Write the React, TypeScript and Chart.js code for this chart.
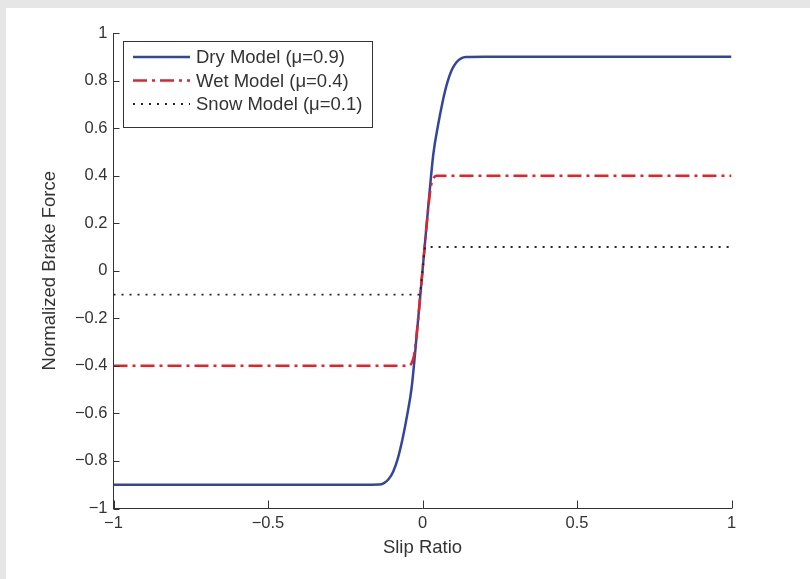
import React, { useEffect, useRef } from "react";
import { Chart, registerables } from "chart.js";

Chart.register(...registerables);

// ---- data ----
const dryX = [-1, -0.2, -0.14, -0.125, -0.11, -0.095, -0.08, -0.065, -0.05, -0.035, -0.018, 0, 0.018, 0.035, 0.05, 0.065, 0.08, 0.095, 0.11, 0.125, 0.14, 0.2, 1];
const dryY = [-0.9, -0.9, -0.899, -0.893, -0.877, -0.845, -0.79, -0.71, -0.61, -0.49, -0.26, 0, 0.26, 0.49, 0.61, 0.71, 0.79, 0.845, 0.877, 0.893, 0.899, 0.9, 0.9];
const wetX = [-1, -0.045, -0.036, -0.028, -0.02, 0, 0.02, 0.028, 0.036, 0.045, 1];
const wetY = [-0.4, -0.4, -0.39, -0.36, -0.28, 0, 0.28, 0.36, 0.39, 0.4, 0.4];
const snowX = [-1, -0.008, 0.008, 1];
const snowY = [-0.1, -0.1, 0.1, 0.1];

const seriesNames = ["Dry Model (\u03bc=0.9)", "Wet Model (\u03bc=0.4)", "Snow Model (\u03bc=0.1)"];

const xTicks = [-1, -0.5, 0, 0.5, 1];
const xTickLabels = ["\u22121", "\u22120.5", "0", "0.5", "1"];
const yTicks = [-1, -0.8, -0.6, -0.4, -0.2, 0, 0.2, 0.4, 0.6, 0.8, 1];
const yTickLabels = ["\u22121", "\u22120.8", "\u22120.6", "\u22120.4", "\u22120.2", "0", "0.2", "0.4", "0.6", "0.8", "1"];

const xTitle = "Slip Ratio";
const yTitle = "Normalized Brake Force";

const toPts = (xs: number[], ys: number[]) => xs.map((x, i) => ({ x, y: ys[i] }));

const FONT = "'Liberation Sans', Arial, Helvetica, sans-serif";
const TEXT = "#333333";

const decorPlugin = {
  id: "decor",
  afterDraw(chart: any) {
    const ctx = chart.ctx as CanvasRenderingContext2D;
    const xs = chart.scales.x;
    const ys = chart.scales.y;
    const left = xs.left;
    const bottom = ys.bottom;
    ctx.save();
    // inward ticks
    ctx.strokeStyle = TEXT;
    ctx.lineWidth = 1;
    ctx.setLineDash([]);
    ctx.beginPath();
    yTicks.forEach((v) => {
      const py = Math.round(ys.getPixelForValue(v)) + 0.5;
      ctx.moveTo(left, py);
      ctx.lineTo(left + 6, py);
    });
    xTicks.forEach((v) => {
      const px = Math.round(xs.getPixelForValue(v)) + 0.5;
      ctx.moveTo(px, bottom);
      ctx.lineTo(px, bottom - 8);
    });
    ctx.stroke();

    // axis titles
    ctx.fillStyle = TEXT;
    ctx.font = `18.5px ${FONT}`;
    ctx.textAlign = "center";
    ctx.textBaseline = "middle";
    ctx.fillText(xTitle, (xs.left + xs.right) / 2, 548);
    ctx.save();
    ctx.translate(50, (ys.top + ys.bottom) / 2);
    ctx.rotate(-Math.PI / 2);
    ctx.fillText(yTitle, 0, 0);
    ctx.restore();

    // legend
    const bx = 123.5, by = 41.5, bw = 249, bh = 86;
    ctx.fillStyle = "#ffffff";
    ctx.fillRect(bx, by, bw, bh);
    ctx.strokeStyle = TEXT;
    ctx.lineWidth = 1;
    ctx.strokeRect(bx, by, bw, bh);
    const rows = [57, 80.5, 104];
    ctx.font = `18.5px ${FONT}`;
    ctx.textAlign = "left";
    chart.data.datasets.forEach((ds: any, i: number) => {
      const ry = rows[i];
      ctx.strokeStyle = ds.borderColor;
      ctx.lineWidth = ds.borderWidth;
      ctx.setLineDash(ds.borderDash || []);
      ctx.beginPath();
      ctx.moveTo(133, ry);
      ctx.lineTo(190, ry);
      ctx.stroke();
      ctx.setLineDash([]);
      ctx.fillStyle = TEXT;
      ctx.fillText(seriesNames[i], 196, ry + 1);
    });
    ctx.restore();
  },
};

export default function App() {
  const ref = useRef<HTMLCanvasElement | null>(null);
  useEffect(() => {
    if (!ref.current) return;
    const chart = new Chart(ref.current, {
      type: "scatter",
      data: {
        datasets: [
          {
            label: seriesNames[0],
            data: toPts(dryX, dryY),
            showLine: true,
            borderColor: "#34469c",
            backgroundColor: "#34469c",
            borderWidth: 2.5,
            pointRadius: 0,
            cubicInterpolationMode: "monotone",
            order: 3,
          },
          {
            label: seriesNames[1],
            data: toPts(wetX, wetY),
            showLine: true,
            borderColor: "#e0242c",
            backgroundColor: "#e0242c",
            borderWidth: 2.5,
            borderDash: [14, 5, 3, 5],
            pointRadius: 0,
            cubicInterpolationMode: "monotone",
            order: 2,
          },
          {
            label: seriesNames[2],
            data: toPts(snowX, snowY),
            showLine: true,
            borderColor: "#222222",
            backgroundColor: "#222222",
            borderWidth: 1.8,
            borderDash: [2, 6],
            pointRadius: 0,
            tension: 0,
            order: 1,
          },
        ],
      },
      options: {
        animation: false,
        responsive: false,
        maintainAspectRatio: false,
        layout: { padding: { top: 33, right: 78.5, left: 0, bottom: 0 } },
        plugins: { legend: { display: false }, tooltip: { enabled: false } },
        scales: {
          x: {
            type: "linear",
            min: -1,
            max: 1,
            afterFit: (s: any) => { s.height = 70.5; },
            afterBuildTicks: (s: any) => { s.ticks = xTicks.map((v) => ({ value: v })); },
            grid: { display: false, drawTicks: false },
            border: { display: true, color: TEXT, width: 1 },
            ticks: {
              padding: 5,
              color: TEXT,
              font: { family: FONT, size: 16.5 },
              maxRotation: 0,
              callback: (_v: any, i: number) => xTickLabels[i],
            },
          },
          y: {
            type: "linear",
            min: -1,
            max: 1,
            afterFit: (s: any) => { s.width = 113.5; },
            afterBuildTicks: (s: any) => { s.ticks = yTicks.map((v) => ({ value: v })); },
            grid: { display: false, drawTicks: false },
            border: { display: true, color: TEXT, width: 1 },
            ticks: {
              padding: 6,
              color: TEXT,
              font: { family: FONT, size: 16.5 },
              callback: (_v: any, i: number) => yTickLabels[i],
            },
          },
        },
      },
      plugins: [decorPlugin],
    } as any);
    return () => chart.destroy();
  }, []);

  return (
    <div style={{ position: "fixed", left: 0, top: 0, width: 810, height: 579, background: "#e6e6e6", overflow: "hidden" }}>
      <div style={{ position: "absolute", left: 6, top: 8, right: 0, bottom: 0, background: "#ffffff" }} />
      <canvas ref={ref} width={810} height={579} style={{ position: "absolute", left: 0, top: 0, display: "block" }} />
    </div>
  );
}
